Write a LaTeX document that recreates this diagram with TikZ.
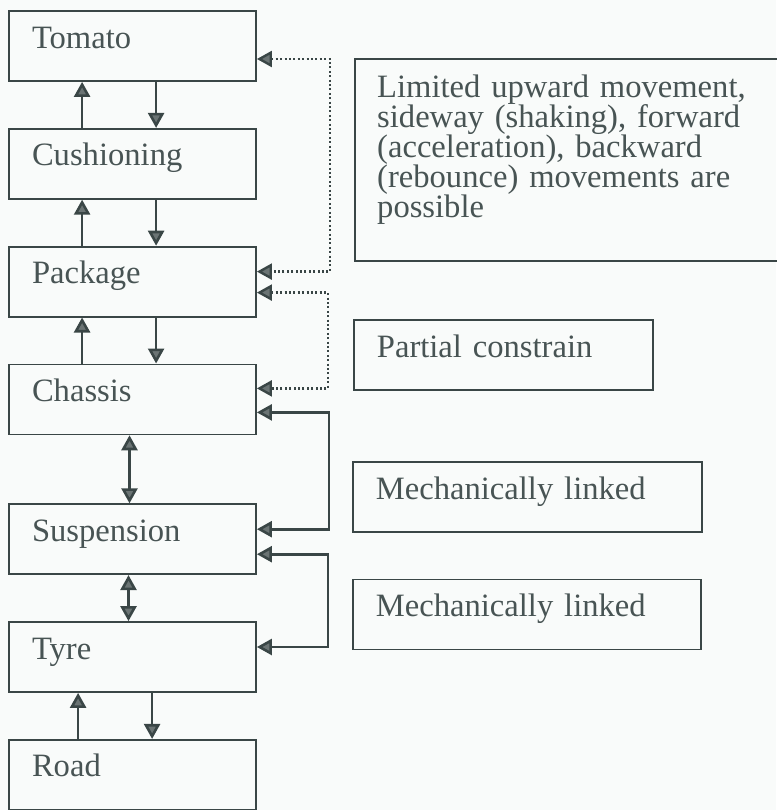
\documentclass[tikz,border=0pt]{standalone}
\usepackage{fontspec}
\setmainfont{Liberation Serif}
\usetikzlibrary{arrows.meta,positioning}
\definecolor{inkgray}{RGB}{58,70,70}
\definecolor{textgray}{RGB}{72,84,84}
\definecolor{paper}{RGB}{249,251,250}
\newcommand{\layername}[1]{\makebox[201pt][l]{#1}}

\begin{document}
\begin{tikzpicture}[x=1pt,y=1pt,font=\fontsize{32.6}{30}\selectfont,text=textgray,
    >={Triangle[length=15pt,width=16pt,fill=inkgray!75]},
    part/.style={draw=inkgray,line width=1.8pt,minimum height=70pt,minimum width=247pt,
      inner xsep=23pt,text height=0.7em,text depth=0.28em},
    note/.style={draw=inkgray,line width=1.8pt,anchor=west,minimum height=70pt,
      inner xsep=23pt,align=left,text height=0.7em,text depth=0.3em},
    arr/.style={draw=inkgray,line width=2.6pt},
    dotlink/.style={draw=inkgray,line width=2.4pt,dash pattern=on 2pt off 2.4pt,<->}]
  \fill[paper] (0,0) rectangle (776,-810);
  \useasboundingbox (0,0) rectangle (776,-810);
  % the chain, top to bottom
  \node[part] (tomato) at (132.5,-46) {\layername{Tomato}};
  \node[part,below=46pt of tomato] (cushion) {\layername{Cushioning}};
  \node[part,below=46pt of cushion] (package) {\layername{Package}};
  \node[part,below=46pt of package] (chassis) {\layername{Chassis}};
  \node[part,below=68pt of chassis] (suspension) {\layername{Suspension}};
  \node[part,below=46pt of suspension] (tyre) {\layername{Tyre}};
  \node[part,below=46pt of tyre] (road) {\layername{Road}};
  \foreach \lo/\hi/\upx/\dnx in {cushion/tomato/74/148,package/cushion/74/148,
      chassis/package/74/148,road/tyre/70/144} {
    \draw[arr,->] ([xshift=\upx pt]\lo.north west) -- ([xshift=\upx pt]\hi.south west);
    \draw[arr,->] ([xshift=\dnx pt]\hi.south west) -- ([xshift=\dnx pt]\lo.north west);
  }
  \draw[arr,<->] ([xshift=-3pt]chassis.south) -- ([xshift=-3pt]suspension.north);
  \draw[arr,<->] ([xshift=-4pt]suspension.south) -- ([xshift=-4pt]tyre.north);
  % links on the right
  \draw[dotlink] ([yshift=-13pt]tomato.east) -- ++(73,0) |- ([yshift=10pt]package.east);
  \draw[dotlink] ([yshift=-11pt]package.east) -- ++(71,0) |- ([yshift=11pt]chassis.east);
  \draw[arr,<->] ([yshift=-13pt]chassis.east) -- ++(72,0) |- ([yshift=10pt]suspension.east);
  \draw[arr,<->] ([yshift=-15pt]suspension.east) -- ++(71,0) |- ([yshift=10pt]tyre.east);
  % remarks
  \node[draw=inkgray,line width=1.8pt,minimum width=450pt,minimum height=202pt,
        anchor=north west] (limits) at (354,-58) {};
  \node[anchor=north west,align=left,inner sep=0pt,text width=420pt] (limitstext)
        at ([xshift=23pt,yshift=-17pt]limits.north west)
        {Limited upward movement,\\ sideway (shaking), forward\\ (acceleration), backward\\
         (rebounce) movements are\\ possible};
  \node[note,text width=253pt] (partial) at (353,-355) {Partial constrain};
  \node[note,text width=303pt] (mech1) at (352,-497) {Mechanically linked};
  \node[note,text width=302pt] (mech2) at (352,-614.5) {Mechanically linked};
\end{tikzpicture}
\end{document}
